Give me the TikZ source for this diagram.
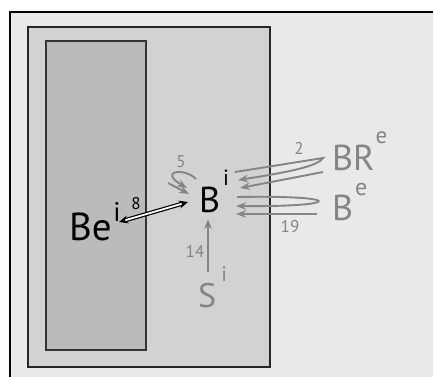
\documentclass[tikz,border=0pt]{standalone}
\usepackage{fontspec}
\setmainfont{PT Sans}
\usetikzlibrary{arrows.meta}
\definecolor{outerfill}{HTML}{E9E9E9}
\definecolor{midfill}{HTML}{D2D2D2}
\definecolor{innerfill}{HTML}{BBBBBB}
\definecolor{gr}{HTML}{858585}
\tikzset{
  box/.style={line width=1.5pt},
  lbl/.style={inner sep=0pt, anchor=base west},
  num/.style={inner sep=0pt, font=\fontsize{17}{17}\selectfont},
  garrow/.style={draw=gr, line width=1.9pt, -{Stealth[length=10pt,width=7.5pt]}},
  dblarrow/.style={draw=black, double=white, double distance=1.8pt, line width=1.2pt,
    {Stealth[length=9pt,width=8pt]}-{Stealth[length=9pt,width=8pt]}}
}
\begin{document}
\begin{tikzpicture}[x=1pt,y=-1pt]
\useasboundingbox (0,0) rectangle (433,376);
\begin{scope}
\clip (0,0) rectangle (433,376);
\fill[white] (0,0) rectangle (433,376);
\draw[box, fill=outerfill, draw=black] (10,12) rectangle (445,390);
\end{scope}
\draw[box, fill=midfill, draw=black!85] (28,27) rectangle (270,367);
\draw[box, fill=innerfill, draw=black!80] (46,41) rectangle (146,350);

% labels
\node[lbl] (Be) at (69,240) {\fontsize{39}{39}\selectfont Be\hspace{1.5pt}\raisebox{19pt}{\fontsize{27}{27}\selectfont i}};
\node[lbl] (Bi) at (199,212) {\fontsize{36}{36}\selectfont B\hspace{3pt}\raisebox{27pt}{\fontsize{22}{22}\selectfont i}};
\node[lbl, text=gr] (BRe) at (332,170) {\fontsize{36}{36}\selectfont BR\hspace{1pt}\raisebox{27pt}{\fontsize{23}{23}\selectfont e}};
\node[lbl, text=gr] (Be2) at (332,220) {\fontsize{36}{36}\selectfont B\hspace{2pt}\raisebox{25pt}{\fontsize{24}{24}\selectfont e}};
\node[lbl, text=gr] (Si) at (198,307) {\fontsize{34}{34}\selectfont S\hspace{5pt}\raisebox{26pt}{\fontsize{21}{21}\selectfont i}};

% numbers
\node[num] (n8) at (136,204) {8};
\node[num, text=gr] (n5) at (181,162) {5};
\node[num, text=gr] (n2) at (299,148) {2};
\node[num, text=gr] (n19) at (290,227) {19};
\node[num, text=gr] (n14) at (195,251) {14};

% connector end points
\coordinate (d1) at (119,222);
\coordinate (d2) at (188,202);
\coordinate (s1) at (196,179);
\coordinate (s2) at (187,188);
\coordinate (t1) at (168,183);
\coordinate (t2) at (189,194);
\coordinate (h1a) at (235,172);
\coordinate (h1t) at (323,158);
\coordinate (h1b) at (238,180);
\coordinate (r1a) at (323,172);
\coordinate (r1b) at (240,188);
\coordinate (h2a) at (237,197);
\coordinate (h2b) at (236,206);
\coordinate (r2a) at (317,214);
\coordinate (r2b) at (236,214);
\coordinate (v1) at (208,272);
\coordinate (v2) at (208,219);

% connectors
\draw[dblarrow] (d1) -- (d2);
\draw[garrow] (s1) .. controls (184,167) and (158,171) .. (s2);
\draw[garrow] (t1) -- (t2);
\draw[garrow] (h1a) -- (h1t) .. controls (318,166) and (290,172) .. (h1b);
\draw[garrow] (r1a) -- (r1b);
\draw[garrow] (h2a) .. controls (345,195) and (345,207) .. (h2b);
\draw[garrow] (r2a) -- (r2b);
\draw[garrow] (v1) -- (v2);
\end{tikzpicture}
\end{document}
